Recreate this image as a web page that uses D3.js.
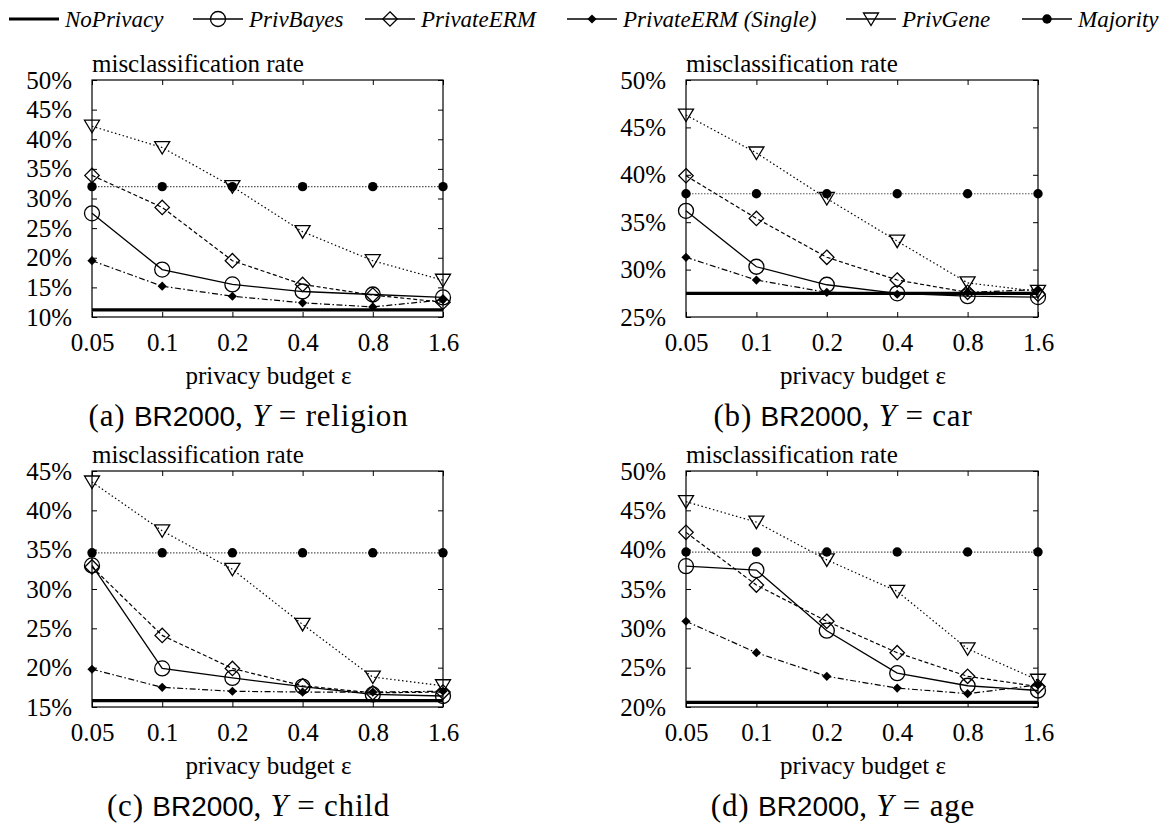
<!DOCTYPE html>
<html><head><meta charset="utf-8">
<script src="https://cdn.jsdelivr.net/npm/d3@7"></script>
<style>body{margin:0;background:#fff} svg{display:block}</style>
</head><body>
<svg id="chart" width="1159" height="824"></svg>
<script>
// ---------- data ----------
const epsilons = ["0.05", "0.1", "0.2", "0.4", "0.8", "1.6"];
const targets = ["religion", "car", "child", "age"];
const panelLetters = ["a", "b", "c", "d"];
const yDomains = [[10, 50], [25, 50], [15, 45], [20, 50]];
const seriesNames = ["NoPrivacy", "PrivBayes", "PrivateERM", "PrivateERM (Single)", "PrivGene", "Majority"];

// values in percent, one row per panel (religion, car, child, age)
const noPrivacy = [
  [11.2, 11.2, 11.2, 11.2, 11.2, 11.2],
  [27.5, 27.5, 27.5, 27.5, 27.5, 27.5],
  [15.8, 15.8, 15.8, 15.8, 15.8, 15.8],
  [20.6, 20.6, 20.6, 20.6, 20.6, 20.6]
];
const privBayes = [
  [27.5, 18.0, 15.5, 14.3, 13.8, 13.3],
  [36.2, 30.3, 28.4, 27.5, 27.2, 27.1],
  [33.0, 19.9, 18.7, 17.6, 16.6, 16.4],
  [37.9, 37.4, 29.7, 24.3, 22.7, 22.1]
];
const privateERM = [
  [33.9, 28.5, 19.5, 15.5, 13.7, 12.5],
  [39.9, 35.4, 31.3, 28.9, 27.6, 27.4],
  [32.8, 24.1, 19.9, 17.7, 16.8, 16.9],
  [42.2, 35.5, 30.9, 26.9, 23.9, 22.6]
];
const privateERMSingle = [
  [19.5, 15.2, 13.5, 12.4, 11.7, 12.9],
  [31.3, 28.9, 27.6, 27.4, 27.6, 27.9],
  [19.8, 17.5, 17.0, 16.9, 16.9, 17.0],
  [30.9, 26.9, 23.9, 22.4, 21.7, 22.8]
];
const privGene = [
  [42.2, 38.6, 32.0, 24.4, 19.5, 16.2],
  [46.3, 42.3, 37.5, 33.0, 28.6, 27.7],
  [43.6, 37.4, 32.5, 25.5, 18.8, 17.7],
  [46.1, 43.5, 38.7, 34.7, 27.4, 23.4]
];
const majority = [
  [32.0, 32.0, 32.0, 32.0, 32.0, 32.0],
  [38.0, 38.0, 38.0, 38.0, 38.0, 38.0],
  [34.6, 34.6, 34.6, 34.6, 34.6, 34.6],
  [39.7, 39.7, 39.7, 39.7, 39.7, 39.7]
];
const seriesData = [noPrivacy, privBayes, privateERM, privateERMSingle, privGene, majority];

// ---------- styles ----------
const styles = [
  {w: 3.2, dash: null, color: "#000", marker: null},
  {w: 1.3, dash: null, color: "#000", marker: "circle"},
  {w: 1.2, dash: "4,2.5", color: "#000", marker: "diamond"},
  {w: 1.2, dash: "6,2.5,1.5,2.5", color: "#000", marker: "smalldiamond"},
  {w: 1.2, dash: "1.5,2.5", color: "#000", marker: "triangle"},
  {w: 1.2, dash: "1.5,1.5", color: "#555", marker: "dot"}
];
const SERIF = "'Liberation Serif', 'Times New Roman', serif";
const SANS = "'Liberation Sans', Arial, sans-serif";

const svg = d3.select("#chart");
svg.append("rect").attr("width", 1159).attr("height", 824).attr("fill", "#fff");

function drawMarker(g, type, cx, cy) {
  if (!type) return;
  if (type === "circle") {
    g.append("circle").attr("cx", cx).attr("cy", cy).attr("r", 7.5)
      .attr("fill", "none").attr("stroke", "#000").attr("stroke-width", 1.3);
  } else if (type === "dot") {
    g.append("circle").attr("cx", cx).attr("cy", cy).attr("r", 4.7).attr("fill", "#000");
  } else if (type === "diamond") {
    const s = 7.2;
    g.append("path").attr("d", `M${cx},${cy - s}L${cx + s},${cy}L${cx},${cy + s}L${cx - s},${cy}Z`)
      .attr("fill", "none").attr("stroke", "#000").attr("stroke-width", 1.3);
  } else if (type === "smalldiamond") {
    const s = 4.6;
    g.append("path").attr("d", `M${cx},${cy - s}L${cx + s},${cy}L${cx},${cy + s}L${cx - s},${cy}Z`)
      .attr("fill", "#000");
  } else if (type === "triangle") {
    g.append("path").attr("d", `M${cx - 7.5},${cy - 6}L${cx + 7.5},${cy - 6}L${cx},${cy + 6.5}Z`)
      .attr("fill", "none").attr("stroke", "#000").attr("stroke-width", 1.3);
  }
}

// ---------- legend ----------
const legendStarts = [9, 193, 365, 567, 846, 1022];
const legendY = 19;
seriesNames.forEach((name, i) => {
  const g = svg.append("g");
  const x0 = legendStarts[i], st = styles[i];
  g.append("line").attr("x1", x0).attr("x2", x0 + 50).attr("y1", legendY).attr("y2", legendY)
    .attr("stroke", "#000").attr("stroke-width", i === 0 ? 3.2 : 1.3);
  drawMarker(g, st.marker, x0 + 25, legendY);
  g.append("text").attr("x", x0 + 56).attr("y", legendY + 8)
    .attr("font-family", SERIF).attr("font-style", "italic").attr("font-size", 23)
    .text(name);
});

// ---------- panels ----------
const boxes = [
  {l: 92, r: 443, t: 80, b: 317},
  {l: 686, r: 1038, t: 80, b: 317},
  {l: 92, r: 443, t: 471, b: 707},
  {l: 686, r: 1038, t: 471, b: 707}
];

boxes.forEach((bx, p) => {
  const x = d3.scalePoint().domain(epsilons).range([bx.l, bx.r]).padding(0);
  const y = d3.scaleLinear().domain(yDomains[p]).range([bx.b, bx.t]);
  const yTicks = d3.range(yDomains[p][0], yDomains[p][1] + 0.01, 5);
  const g = svg.append("g");

  // axes (ticks inward, mirrored)
  const fmt = d => d + "%";
  const ax = [
    g.append("g").attr("transform", `translate(${bx.l},0)`)
      .call(d3.axisLeft(y).tickValues(yTicks).tickFormat(fmt).tickSize(-5).tickSizeOuter(0).tickPadding(20)),
    g.append("g").attr("transform", `translate(${bx.r},0)`)
      .call(d3.axisRight(y).tickValues(yTicks).tickFormat("").tickSize(-5).tickSizeOuter(0)),
    g.append("g").attr("transform", `translate(0,${bx.b})`)
      .call(d3.axisBottom(x).tickSize(-5).tickSizeOuter(0).tickPadding(16)),
    g.append("g").attr("transform", `translate(0,${bx.t})`)
      .call(d3.axisTop(x).tickFormat("").tickSize(-5).tickSizeOuter(0))
  ];
  ax.forEach(a => {
    a.select(".domain").remove();
    a.selectAll(".tick line").attr("stroke", "#000").attr("stroke-width", 1);
    a.selectAll("text").attr("font-family", SERIF).attr("font-size", 25).attr("fill", "#000");
  });
  g.append("rect").attr("x", bx.l).attr("y", bx.t).attr("width", bx.r - bx.l).attr("height", bx.b - bx.t)
    .attr("fill", "none").attr("stroke", "#000").attr("stroke-width", 1.2);

  // title
  g.append("text").attr("x", bx.l).attr("y", bx.t - 8.5)
    .attr("font-family", SERIF).attr("font-size", 25).text("misclassification rate");
  // x label
  g.append("text").attr("x", (bx.l + bx.r) / 2 + 1).attr("y", bx.b + 67).attr("text-anchor", "middle")
    .attr("font-family", SERIF).attr("font-size", 25).text("privacy budget ε");
  // caption
  const cap = g.append("text").attr("x", (bx.l + bx.r) / 2 - 19).attr("y", bx.b + 109)
    .attr("text-anchor", "middle").attr("font-family", SERIF).attr("font-size", 31)
    .attr("letter-spacing", 0.8);
  cap.append("tspan").text(`(${panelLetters[p]}) `);
  cap.append("tspan").attr("font-family", SANS).attr("font-size", 28).attr("letter-spacing", 0).text("BR2000");
  cap.append("tspan").text(", ");
  cap.append("tspan").attr("font-style", "italic").text("Y");
  cap.append("tspan").text("  =  ");
  cap.append("tspan").text(targets[p]);

  // series
  const line = d3.line().x((d, i) => x(epsilons[i])).y(d => y(d));
  seriesData.forEach((ser, s) => {
    const st = styles[s];
    const sg = g.append("g");
    sg.append("path").attr("d", line(ser[p])).attr("fill", "none")
      .attr("stroke", st.color).attr("stroke-width", st.w)
      .attr("stroke-dasharray", st.dash);
    ser[p].forEach((v, i) => drawMarker(sg, st.marker, x(epsilons[i]), y(v)));
  });
});
</script>
</body></html>
